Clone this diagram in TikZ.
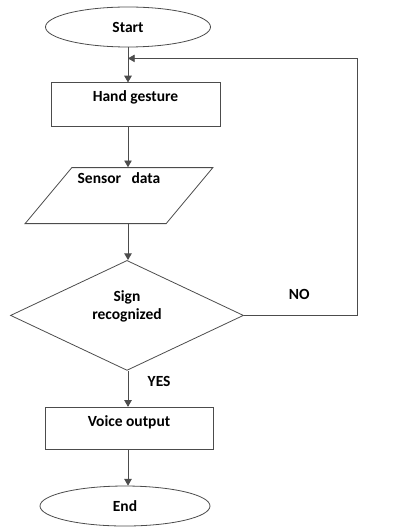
\documentclass[tikz,border=0pt]{standalone}
\usepackage{fontspec}
\setmainfont{Carlito}
\usetikzlibrary{shapes,arrows,positioning}

\begin{document}
\begin{tikzpicture}[x=1pt,y=-1pt]

  \tikzset{main node/.style={draw=black!70, line width=0.8pt,
  		text centered, font=\fontsize{15.5}{17}\selectfont\bfseries}, }
  \tikzset{term node/.style={main node, ellipse, minimum width=165pt, minimum height=40pt, inner sep=0pt}, }
  \tikzset{box node/.style={main node, rectangle, inner xsep=4pt, inner ysep=7pt, text height=12pt}, }
  \tikzset{linea/.style={-triangle 60, draw=black!70, line width=0.8pt}, }
  \tikzset{lab node/.style={font=\fontsize{15.5}{17}\selectfont\bfseries}, }
\useasboundingbox (0,0) rectangle (402,529);

\node[term node] (start) at (128,27) {Start};
\node[box node, minimum width=169pt, text depth=18pt] (hand) [below =35pt of start, xshift=7.5pt] {Hand gesture};
\node[main node, trapezium, trapezium left angle=51, trapezium right angle=129,
      trapezium stretches=true, minimum width=188pt, minimum height=56pt,
      text height=12pt, text depth=36pt] (sensor) [below =40pt of hand, xshift=-16.5pt] {Sensor \ \ data};
\node[main node, diamond, aspect=2.1, minimum width=233pt, minimum height=110pt, inner sep=0pt,
      align=center] (sign) [below =36pt of sensor, xshift=8pt] {Sign\\[1pt]recognized\\[4pt]\mbox{}};
\node[box node, minimum width=168pt, text depth=16pt] (voice) [below =36pt of sign, xshift=2pt] {Voice output};
\node[term node, minimum width=170pt] (stop) [below =36pt of voice, xshift=-4pt] {End};

\coordinate (join) at ([yshift=-11pt]start.south);

\draw[linea] (start) -- (start |- hand.north);
\draw[linea] (start |- hand.south) -- (start |- sensor.north);
\draw[linea] (start |- sensor.south) -- (start |- sign.north);
\draw[linea] (start |- sign.south) -- node[lab node, right=16pt, pos=0.3] (yes) {YES} (start |- voice.north);
\draw[linea] (start |- voice.south) -- (start |- stop.north);
\draw[linea] (sign.east) -- node[lab node, above=12pt, pos=0.49] (no) {NO} ++(113,0) |- (join);
%%
\end{tikzpicture}
\end{document}
